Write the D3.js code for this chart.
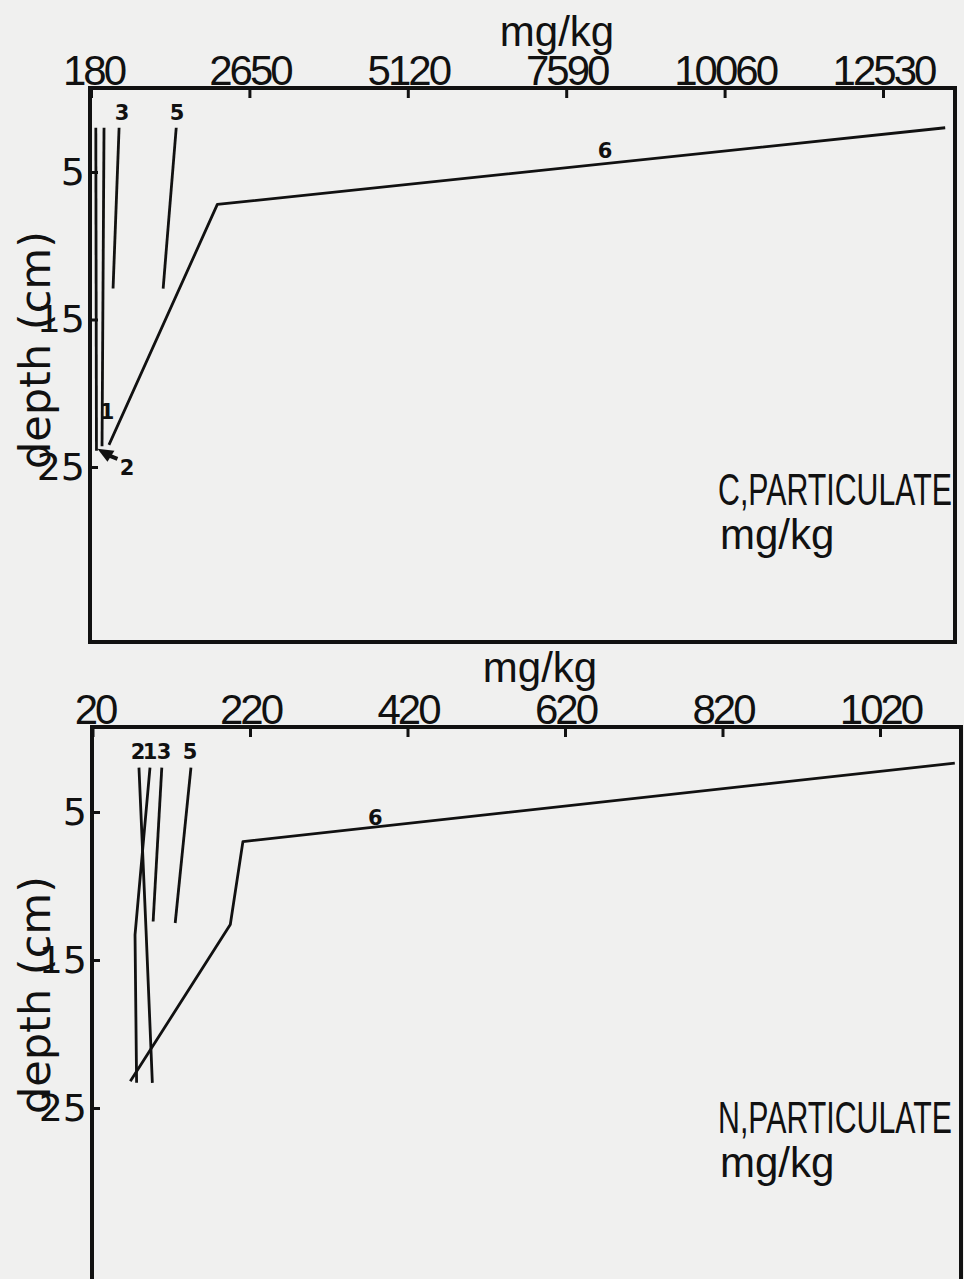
<!DOCTYPE html>
<html lang="en">
  <head>
    <meta charset="UTF-8" />
    <script src="https://d3js.org/d3.v7.min.js"></script>
    <style>
      body { margin: 0; background: #f0f0ef; }
      svg { display: block; }
    </style>
  </head>
  <body>
    <div id="chart"></div>
    <script>
      // tick labels
      const cTicks = [180, 2650, 5120, 7590, 10060, 12530]
      const nTicks = [20, 220, 420, 620, 820, 1020]
      const depthTicks = [5, 15, 25]

      // particulate carbon profiles (mg/kg against depth in cm)
      const cNames = ['1', '2', '3', '5', '6']
      const cValues = [
        [383, 352],
        [255, 265],
        [618, 524],
        [1509, 1305],
        [13500, 2150, 460]
      ]
      const cDepths = [
        [2, 23.6],
        [2, 23.9],
        [2, 12.9],
        [2, 12.9],
        [2, 7.2, 23.5]
      ]
      // where each curve number is written (mg/kg, cm)
      const cLabelAt = [[430, 21.3], [741, 25.1], [663, 1.0], [1521, 1.0], [8195, 3.6]]

      // particulate nitrogen profiles
      const nNames = ['2', '1', '3', '5', '6']
      const nValues = [
        [79, 88, 96],
        [93, 74, 76],
        [108, 97],
        [145, 125],
        [1115, 211, 195, 68]
      ]
      const nDepths = [
        [2, 13, 23.3],
        [2, 13.3, 23.3],
        [2, 12.4],
        [2, 12.5],
        [1.7, 7, 12.6, 23.2]
      ]
      const nLabelAt = [[78, 0.95], [93, 0.95], [111, 0.95], [144, 0.95], [379, 5.4]]

      const width = 964, height = 1279

      const svg = d3.select('#chart')
        .append('svg')
        .attr('width', width)
        .attr('height', height)

      const panels = [
        {
          ticks: cTicks, names: cNames, values: cValues, depths: cDepths, labelAt: cLabelAt,
          x: d3.scaleLinear().domain([180, 12530]).range([91, 883]),
          y: d3.scaleLinear().domain([5, 25]).range([172, 467]),
          frame: { x0: 90, y0: 88, x1: 955, y1: 642 },
          unitX: 557, unitY: 46, title: 'C,PARTICULATE', titleY: 505, depthY: 350, arrow: true
        },
        {
          ticks: nTicks, names: nNames, values: nValues, depths: nDepths, labelAt: nLabelAt,
          x: d3.scaleLinear().domain([20, 1020]).range([92.5, 880]),
          y: d3.scaleLinear().domain([5, 25]).range([812, 1108]),
          frame: { x0: 92, y0: 727, x1: 961, y1: 1300 },
          unitX: 540, unitY: 682, title: 'N,PARTICULATE', titleY: 1133, depthY: 995, arrow: false
        }
      ]

      panels.forEach(p => {
        const g = svg.append('g')
        const f = p.frame

        // frame
        g.append('rect')
          .attr('x', f.x0)
          .attr('y', f.y0)
          .attr('width', f.x1 - f.x0)
          .attr('height', f.y1 - f.y0)
          .attr('fill', 'none')
          .attr('stroke', '#111')
          .attr('stroke-width', 4)

        // top axis, ticks point into the plot
        const xAxis = g.append('g')
          .attr('transform', `translate(0, ${f.y0})`)
          .call(d3.axisTop(p.x).tickValues(p.ticks).tickSize(-10).tickPadding(3).tickFormat(d3.format('d')))
        xAxis.select('.domain').remove()
        xAxis.selectAll('line').attr('stroke', '#111').attr('stroke-width', 3)
        xAxis.selectAll('text')
          .attr('fill', '#111')
          .style('font-family', '"Liberation Sans", Arial, sans-serif')
          .style('font-size', '42px')
          .style('letter-spacing', '-3px')
        // first label sits on the corner
        xAxis.selectAll('.tick:first-of-type text').attr('dx', 2)

        // left axis
        const yAxis = g.append('g')
          .attr('transform', `translate(${f.x0}, 0)`)
          .call(d3.axisLeft(p.y).tickValues(depthTicks).tickSize(-8).tickPadding(5))
        yAxis.select('.domain').remove()
        yAxis.selectAll('line').attr('stroke', '#111').attr('stroke-width', 3)
        yAxis.selectAll('text')
          .attr('fill', '#111')
          .style('font-family', '"DejaVu Sans", sans-serif')
          .style('font-size', '38px')

        // axis titles
        g.append('text')
          .attr('x', p.unitX)
          .attr('y', p.unitY)
          .attr('text-anchor', 'middle')
          .style('font-family', '"Liberation Sans", Arial, sans-serif')
          .style('font-size', '42px')
          .attr('fill', '#111')
          .text('mg/kg')

        g.append('text')
          .attr('transform', `translate(50, ${p.depthY}) rotate(-90)`)
          .attr('text-anchor', 'middle')
          .style('font-family', '"DejaVu Sans", sans-serif')
          .style('font-size', '43px')
          .attr('fill', '#111')
          .text('depth (cm)')

        // curves
        const line = d3.line()
          .x(d => p.x(d[0]))
          .y(d => p.y(d[1]))

        p.values.forEach((vals, i) => {
          const pts = vals.map((v, j) => [v, p.depths[i][j]])
          g.append('path')
            .datum(pts)
            .attr('d', line)
            .attr('fill', 'none')
            .attr('stroke', '#111')
            .attr('stroke-width', 2.8)
            .attr('stroke-linejoin', 'round')
        })

        // curve numbers
        g.selectAll('.num')
          .data(p.names)
          .join('text')
          .attr('x', (d, i) => p.x(p.labelAt[i][0]))
          .attr('y', (d, i) => p.y(p.labelAt[i][1]))
          .attr('text-anchor', 'middle')
          .attr('dominant-baseline', 'central')
          .style('font-family', '"DejaVu Sans", sans-serif')
          .style('font-weight', 'bold')
          .style('font-size', '21px')
          .attr('fill', '#111')
          .text(d => d)

        // arrow from the "2" to the foot of curve 2
        if (p.arrow) {
          const v = p.values[1], dd = p.depths[1]
          const tx = p.x(v[v.length - 1]) + 1
          const ty = p.y(dd[dd.length - 1]) - 2
          const path = d3.path()
          path.moveTo(tx, ty)
          path.lineTo(tx + 17, ty + 2)
          path.lineTo(tx + 10, ty + 13)
          path.closePath()
          g.append('path').attr('d', path.toString()).attr('fill', '#111')
          g.append('line')
            .attr('x1', tx + 10).attr('y1', ty + 6)
            .attr('x2', tx + 20).attr('y2', ty + 10)
            .attr('stroke', '#111').attr('stroke-width', 4)
        }

        // panel caption
        g.append('text')
          .attr('x', 718)
          .attr('y', p.titleY)
          .attr('textLength', 234)
          .attr('lengthAdjust', 'spacingAndGlyphs')
          .style('font-family', '"Liberation Sans", Arial, sans-serif')
          .style('font-size', '44px')
          .attr('fill', '#111')
          .text(p.title)
        g.append('text')
          .attr('x', 720)
          .attr('y', p.titleY + 44)
          .style('font-family', '"Liberation Sans", Arial, sans-serif')
          .style('font-size', '42px')
          .attr('fill', '#111')
          .text('mg/kg')
      })
    </script>
  </body>
</html>
